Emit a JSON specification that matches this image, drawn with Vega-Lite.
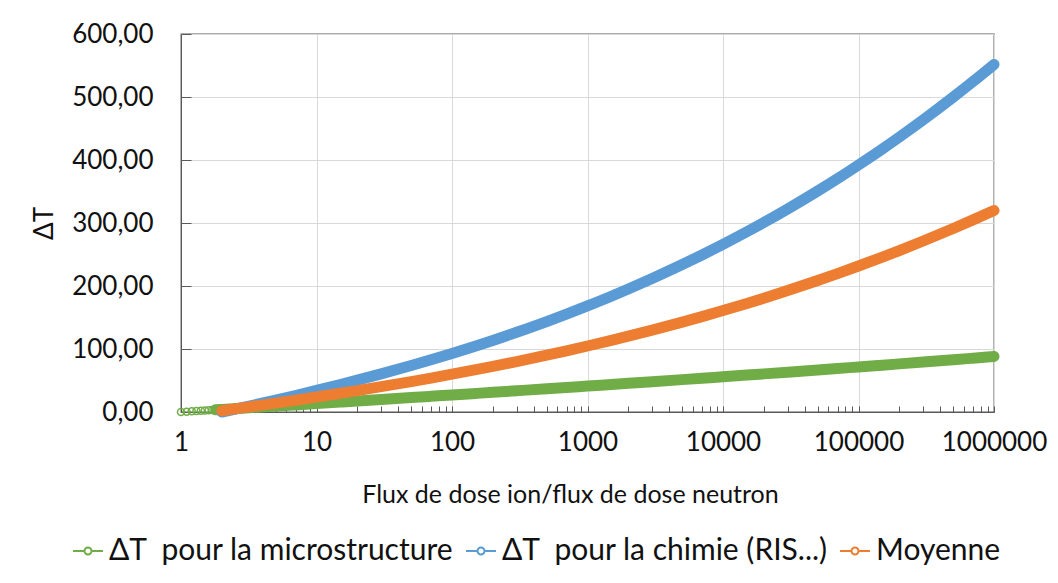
{
  "$schema": "https://vega.github.io/schema/vega-lite/v6.json",
  "autosize": {"type": "none"},
  "width": 813,
  "height": 378,
  "padding": {"left": 181, "top": 34, "right": 64, "bottom": 171},
  "background": "white",
  "config": {
    "font": "Lato",
    "view": {"stroke": "#595959", "strokeWidth": 1.3},
    "axis": {"labelFont": "Lato", "titleFont": "Lato", "labelColor": "#111111", "titleColor": "#111111", "titleFontWeight": "normal", "domainColor": "#595959", "tickColor": "#595959", "gridColor": "#d9d9d9", "gridWidth": 1},
    "legend": {"labelFont": "Lato", "labelColor": "#111111"}
  },
  "datasets": {
    "curves": [
      {"x": 1, "y": 0, "serie": "ΔT\u00a0 pour la microstructure"},
      {"x": 1.1, "y": 0.55, "serie": "ΔT\u00a0 pour la microstructure"},
      {"x": 1.2, "y": 1.05, "serie": "ΔT\u00a0 pour la microstructure"},
      {"x": 1.3, "y": 1.52, "serie": "ΔT\u00a0 pour la microstructure"},
      {"x": 1.4, "y": 1.94, "serie": "ΔT\u00a0 pour la microstructure"},
      {"x": 1.5, "y": 2.34, "serie": "ΔT\u00a0 pour la microstructure"},
      {"x": 1.6, "y": 2.72, "serie": "ΔT\u00a0 pour la microstructure"},
      {"x": 1.7, "y": 3.07, "serie": "ΔT\u00a0 pour la microstructure"},
      {"x": 1.8, "y": 3.4, "serie": "ΔT\u00a0 pour la microstructure"},
      {"x": 2, "y": 4.01, "serie": "ΔT\u00a0 pour la microstructure"},
      {"x": 3, "y": 6.36, "serie": "ΔT\u00a0 pour la microstructure"},
      {"x": 5, "y": 9.33, "serie": "ΔT\u00a0 pour la microstructure"},
      {"x": 7, "y": 11.29, "serie": "ΔT\u00a0 pour la microstructure"},
      {"x": 10, "y": 13.38, "serie": "ΔT\u00a0 pour la microstructure"},
      {"x": 15, "y": 15.76, "serie": "ΔT\u00a0 pour la microstructure"},
      {"x": 20, "y": 17.45, "serie": "ΔT\u00a0 pour la microstructure"},
      {"x": 30, "y": 19.85, "serie": "ΔT\u00a0 pour la microstructure"},
      {"x": 50, "y": 22.89, "serie": "ΔT\u00a0 pour la microstructure"},
      {"x": 70, "y": 24.9, "serie": "ΔT\u00a0 pour la microstructure"},
      {"x": 100, "y": 27.04, "serie": "ΔT\u00a0 pour la microstructure"},
      {"x": 150, "y": 29.49, "serie": "ΔT\u00a0 pour la microstructure"},
      {"x": 200, "y": 31.23, "serie": "ΔT\u00a0 pour la microstructure"},
      {"x": 300, "y": 33.71, "serie": "ΔT\u00a0 pour la microstructure"},
      {"x": 500, "y": 36.85, "serie": "ΔT\u00a0 pour la microstructure"},
      {"x": 700, "y": 38.94, "serie": "ΔT\u00a0 pour la microstructure"},
      {"x": 1000, "y": 41.16, "serie": "ΔT\u00a0 pour la microstructure"},
      {"x": 1500, "y": 43.71, "serie": "ΔT\u00a0 pour la microstructure"},
      {"x": 2000, "y": 45.53, "serie": "ΔT\u00a0 pour la microstructure"},
      {"x": 3000, "y": 48.11, "serie": "ΔT\u00a0 pour la microstructure"},
      {"x": 5000, "y": 51.4, "serie": "ΔT\u00a0 pour la microstructure"},
      {"x": 7000, "y": 53.59, "serie": "ΔT\u00a0 pour la microstructure"},
      {"x": 10000, "y": 55.92, "serie": "ΔT\u00a0 pour la microstructure"},
      {"x": 15000, "y": 58.6, "serie": "ΔT\u00a0 pour la microstructure"},
      {"x": 20000, "y": 60.51, "serie": "ΔT\u00a0 pour la microstructure"},
      {"x": 30000, "y": 63.24, "serie": "ΔT\u00a0 pour la microstructure"},
      {"x": 50000, "y": 66.71, "serie": "ΔT\u00a0 pour la microstructure"},
      {"x": 70000, "y": 69.03, "serie": "ΔT\u00a0 pour la microstructure"},
      {"x": 100000, "y": 71.5, "serie": "ΔT\u00a0 pour la microstructure"},
      {"x": 150000, "y": 74.34, "serie": "ΔT\u00a0 pour la microstructure"},
      {"x": 200000, "y": 76.38, "serie": "ΔT\u00a0 pour la microstructure"},
      {"x": 300000, "y": 79.28, "serie": "ΔT\u00a0 pour la microstructure"},
      {"x": 500000, "y": 82.97, "serie": "ΔT\u00a0 pour la microstructure"},
      {"x": 700000, "y": 85.44, "serie": "ΔT\u00a0 pour la microstructure"},
      {"x": 1000000, "y": 88.08, "serie": "ΔT\u00a0 pour la microstructure"},
      {"x": 2, "y": 0, "serie": "ΔT\u00a0 pour la chimie (RIS...)"},
      {"x": 3, "y": 8.2, "serie": "ΔT\u00a0 pour la chimie (RIS...)"},
      {"x": 5, "y": 18.9, "serie": "ΔT\u00a0 pour la chimie (RIS...)"},
      {"x": 7, "y": 26.2, "serie": "ΔT\u00a0 pour la chimie (RIS...)"},
      {"x": 10, "y": 34.2, "serie": "ΔT\u00a0 pour la chimie (RIS...)"},
      {"x": 15, "y": 43.6, "serie": "ΔT\u00a0 pour la chimie (RIS...)"},
      {"x": 20, "y": 50.5, "serie": "ΔT\u00a0 pour la chimie (RIS...)"},
      {"x": 30, "y": 60.5, "serie": "ΔT\u00a0 pour la chimie (RIS...)"},
      {"x": 50, "y": 73.7, "serie": "ΔT\u00a0 pour la chimie (RIS...)"},
      {"x": 70, "y": 82.9, "serie": "ΔT\u00a0 pour la chimie (RIS...)"},
      {"x": 100, "y": 93.0, "serie": "ΔT\u00a0 pour la chimie (RIS...)"},
      {"x": 150, "y": 104.8, "serie": "ΔT\u00a0 pour la chimie (RIS...)"},
      {"x": 200, "y": 113.6, "serie": "ΔT\u00a0 pour la chimie (RIS...)"},
      {"x": 300, "y": 126.5, "serie": "ΔT\u00a0 pour la chimie (RIS...)"},
      {"x": 500, "y": 143.5, "serie": "ΔT\u00a0 pour la chimie (RIS...)"},
      {"x": 700, "y": 155.3, "serie": "ΔT\u00a0 pour la chimie (RIS...)"},
      {"x": 1000, "y": 168.4, "serie": "ΔT\u00a0 pour la chimie (RIS...)"},
      {"x": 1500, "y": 183.8, "serie": "ΔT\u00a0 pour la chimie (RIS...)"},
      {"x": 2000, "y": 195.2, "serie": "ΔT\u00a0 pour la chimie (RIS...)"},
      {"x": 3000, "y": 211.9, "serie": "ΔT\u00a0 pour la chimie (RIS...)"},
      {"x": 5000, "y": 234.0, "serie": "ΔT\u00a0 pour la chimie (RIS...)"},
      {"x": 7000, "y": 249.3, "serie": "ΔT\u00a0 pour la chimie (RIS...)"},
      {"x": 10000, "y": 266.2, "serie": "ΔT\u00a0 pour la chimie (RIS...)"},
      {"x": 15000, "y": 286.1, "serie": "ΔT\u00a0 pour la chimie (RIS...)"},
      {"x": 20000, "y": 300.8, "serie": "ΔT\u00a0 pour la chimie (RIS...)"},
      {"x": 30000, "y": 322.3, "serie": "ΔT\u00a0 pour la chimie (RIS...)"},
      {"x": 50000, "y": 350.8, "serie": "ΔT\u00a0 pour la chimie (RIS...)"},
      {"x": 70000, "y": 370.4, "serie": "ΔT\u00a0 pour la chimie (RIS...)"},
      {"x": 100000, "y": 392.1, "serie": "ΔT\u00a0 pour la chimie (RIS...)"},
      {"x": 150000, "y": 417.5, "serie": "ΔT\u00a0 pour la chimie (RIS...)"},
      {"x": 200000, "y": 436.3, "serie": "ΔT\u00a0 pour la chimie (RIS...)"},
      {"x": 300000, "y": 463.6, "serie": "ΔT\u00a0 pour la chimie (RIS...)"},
      {"x": 500000, "y": 499.7, "serie": "ΔT\u00a0 pour la chimie (RIS...)"},
      {"x": 700000, "y": 524.5, "serie": "ΔT\u00a0 pour la chimie (RIS...)"},
      {"x": 1000000, "y": 551.7, "serie": "ΔT\u00a0 pour la chimie (RIS...)"},
      {"x": 2, "y": 2.0, "serie": "Moyenne"},
      {"x": 3, "y": 7.28, "serie": "Moyenne"},
      {"x": 5, "y": 14.12, "serie": "Moyenne"},
      {"x": 7, "y": 18.75, "serie": "Moyenne"},
      {"x": 10, "y": 23.79, "serie": "Moyenne"},
      {"x": 15, "y": 29.68, "serie": "Moyenne"},
      {"x": 20, "y": 33.98, "serie": "Moyenne"},
      {"x": 30, "y": 40.18, "serie": "Moyenne"},
      {"x": 50, "y": 48.3, "serie": "Moyenne"},
      {"x": 70, "y": 53.9, "serie": "Moyenne"},
      {"x": 100, "y": 60.02, "serie": "Moyenne"},
      {"x": 150, "y": 67.15, "serie": "Moyenne"},
      {"x": 200, "y": 72.42, "serie": "Moyenne"},
      {"x": 300, "y": 80.11, "serie": "Moyenne"},
      {"x": 500, "y": 90.18, "serie": "Moyenne"},
      {"x": 700, "y": 97.12, "serie": "Moyenne"},
      {"x": 1000, "y": 104.78, "serie": "Moyenne"},
      {"x": 1500, "y": 113.76, "serie": "Moyenne"},
      {"x": 2000, "y": 120.37, "serie": "Moyenne"},
      {"x": 3000, "y": 130.01, "serie": "Moyenne"},
      {"x": 5000, "y": 142.7, "serie": "Moyenne"},
      {"x": 7000, "y": 151.45, "serie": "Moyenne"},
      {"x": 10000, "y": 161.06, "serie": "Moyenne"},
      {"x": 15000, "y": 172.35, "serie": "Moyenne"},
      {"x": 20000, "y": 180.66, "serie": "Moyenne"},
      {"x": 30000, "y": 192.77, "serie": "Moyenne"},
      {"x": 50000, "y": 208.76, "serie": "Moyenne"},
      {"x": 70000, "y": 219.72, "serie": "Moyenne"},
      {"x": 100000, "y": 231.8, "serie": "Moyenne"},
      {"x": 150000, "y": 245.92, "serie": "Moyenne"},
      {"x": 200000, "y": 256.34, "serie": "Moyenne"},
      {"x": 300000, "y": 271.44, "serie": "Moyenne"},
      {"x": 500000, "y": 291.34, "serie": "Moyenne"},
      {"x": 700000, "y": 304.97, "serie": "Moyenne"},
      {"x": 1000000, "y": 319.89, "serie": "Moyenne"}
    ]
  },
  "data": {"name": "curves"},
  "encoding": {
    "x": {
      "field": "x", "type": "quantitative",
      "scale": {"type": "log", "domain": [1, 1000000], "nice": false},
      "axis": {
        "title": "Flux de dose ion/flux de dose neutron",
        "titleFontSize": 25, "titlePadding": 27, "titleX": 389,
        "values": [1,2,3,4,5,6,7,8,9,10,20,30,40,50,60,70,80,90,100,200,300,400,500,600,700,800,900,1000,2000,3000,4000,5000,6000,7000,8000,9000,10000,20000,30000,40000,50000,60000,70000,80000,90000,100000,200000,300000,400000,500000,600000,700000,800000,900000,1000000],
        "format": "d",
        "labelExpr": "indexof([1,10,100,1000,10000,100000,1000000], datum.value) >= 0 ? datum.label : ''",
        "labelOverlap": false,
        "labelFlush": false,
        "labelFontSize": 26,
        "labelPadding": 23,
        "tickSize": -6,
        "grid": true,
        "gridOpacity": {"condition": {"test": "indexof([1,10,100,1000,10000,100000,1000000], datum.value) >= 0", "value": 1}, "value": 0}
      }
    },
    "y": {
      "field": "y", "type": "quantitative",
      "scale": {"domain": [0, 600], "nice": false},
      "axis": {
        "title": "ΔT", "titleFontSize": 26, "titleX": -124,
        "values": [0,100,200,300,400,500,600],
        "labelExpr": "replace(format(datum.value, '.2f'), '.', ',')",
        "labelFontSize": 26, "labelPadding": 38,
        "labelFlush": false,
        "tickSize": -10,
        "grid": true
      }
    },
    "color": {
      "field": "serie", "type": "nominal",
      "scale": {"domain": ["ΔT\u00a0 pour la microstructure", "ΔT\u00a0 pour la chimie (RIS...)", "Moyenne"], "range": ["#70AD47", "#5B9BD5", "#ED7D31"]},
      "legend": {
        "title": null, "orient": "none", "direction": "horizontal",
        "legendX": -109, "legendY": 501,
        "labelFontSize": 30, "labelOffset": 5, "columnPadding": 8, "labelLimit": 0,
        "symbolType": "M-1,0H-0.233M0.233,0H1M0.233,0A0.233,0.233,0,1,1,-0.233,0A0.233,0.233,0,1,1,0.233,0",
        "symbolSize": 900, "symbolStrokeWidth": 2, "symbolFillColor": "transparent"
      }
    }
  },
  "layer": [
    {
      "transform": [{"filter": "indexof(datum.serie, 'microstructure') >= 0 && datum.x >= 1.8"}],
      "mark": {"type": "line", "strokeWidth": 11, "strokeCap": "round", "strokeJoin": "round", "interpolate": "monotone"}
    },
    {
      "transform": [{"filter": "indexof(datum.serie, 'microstructure') >= 0 && datum.x < 1.85"}],
      "mark": {"type": "point", "filled": false, "size": 49, "strokeWidth": 1.5, "opacity": 1}
    },
    {
      "transform": [{"filter": "indexof(datum.serie, 'chimie') >= 0"}],
      "mark": {"type": "line", "strokeWidth": 11, "strokeCap": "round", "strokeJoin": "round", "interpolate": "monotone"}
    },
    {
      "transform": [{"filter": "datum.serie === 'Moyenne'"}],
      "mark": {"type": "line", "strokeWidth": 11, "strokeCap": "round", "strokeJoin": "round", "interpolate": "monotone"}
    }
  ]
}
